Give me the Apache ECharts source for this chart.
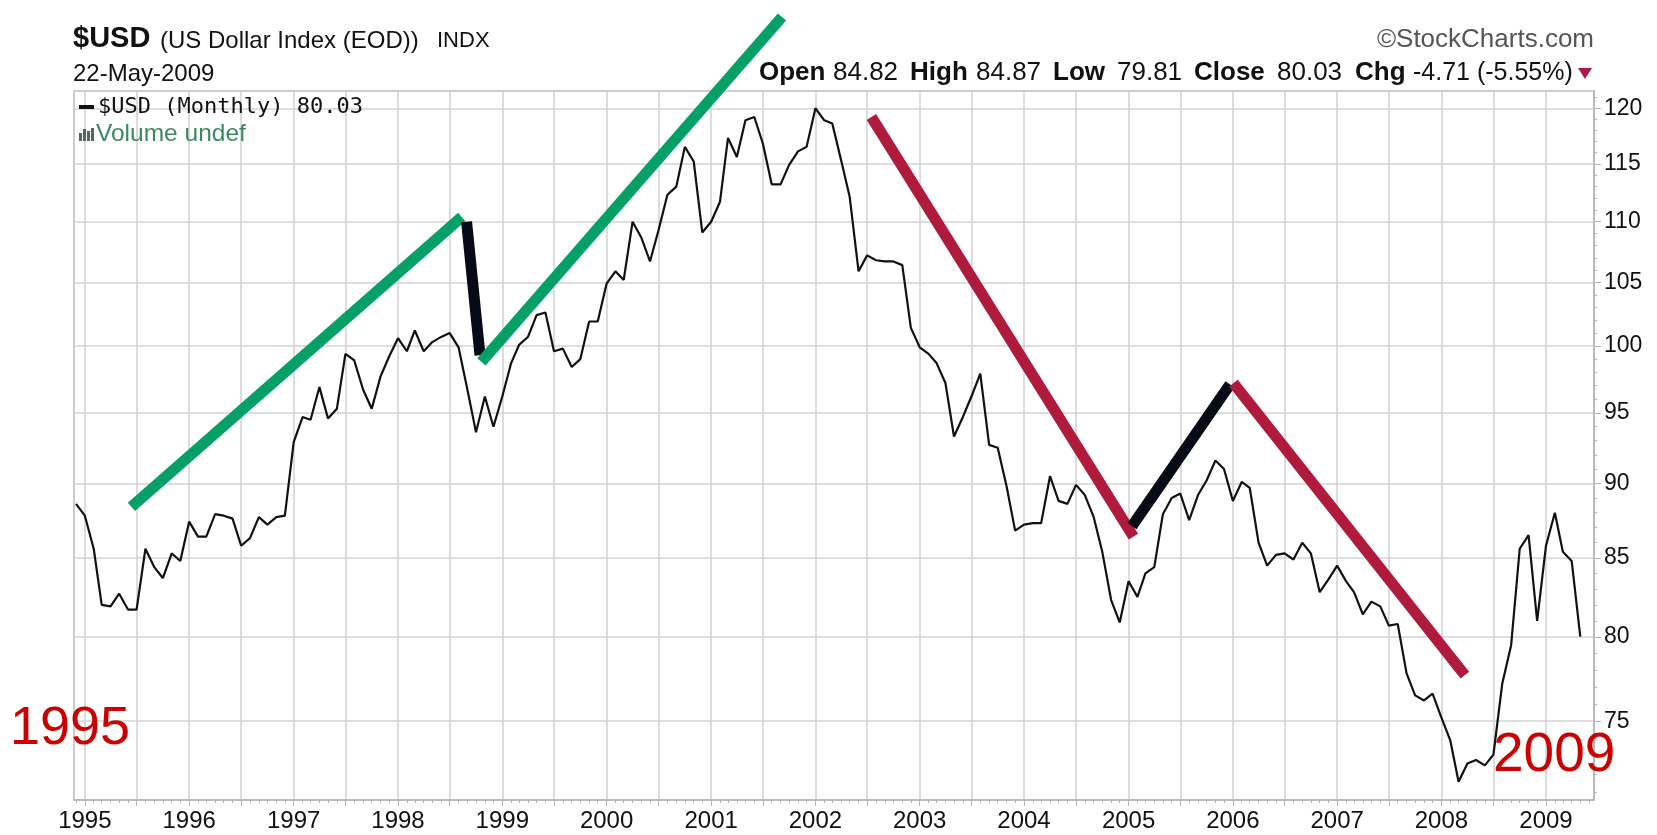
<!DOCTYPE html>
<html>
<head>
<meta charset="utf-8">
<title>$USD Monthly</title>
<script src="https://cdn.jsdelivr.net/npm/echarts@6/dist/echarts.min.js"></script>
<style>
html,body{margin:0;padding:0;background:#fff;}
#chart{width:1657px;height:835px;}
</style>
</head>
<body>
<div id="chart"></div>
<script>
// monthly closes, first point is Dec 1994, each point sits on the 1st of its month
const usd1994 = [88.6];
const usd1995 = [87.8, 85.6, 82.0, 81.9, 82.7, 81.7, 81.7, 85.6, 84.4, 83.7, 85.3, 84.8];
const usd1996 = [87.4, 86.4, 86.4, 87.9, 87.8, 87.6, 85.8, 86.3, 87.7, 87.2, 87.7, 87.8];
const usd1997 = [92.9, 94.7, 94.5, 96.9, 94.6, 95.3, 99.4, 98.9, 96.7, 95.3, 97.7, 99.2];
const usd1998 = [100.6, 99.6, 101.2, 99.6, 100.3, 100.7, 101.0, 99.9, 96.7, 93.6, 96.2, 94.0];
const usd1999 = [96.2, 98.7, 100.1, 100.7, 102.4, 102.6, 99.6, 99.8, 98.4, 99.0, 101.9, 101.9];
const usd2000 = [104.9, 105.9, 105.2, 110.0, 108.7, 106.7, 109.3, 112.3, 113.0, 116.5, 115.2, 109.1];
const usd2001 = [110.0, 111.7, 117.3, 115.6, 118.9, 119.2, 116.8, 113.2, 113.2, 114.9, 116.1, 116.5];
const usd2002 = [120.0, 118.9, 118.6, 115.3, 112.1, 105.9, 107.2, 106.8, 106.7, 106.7, 106.4, 101.4];
const usd2003 = [99.9, 99.4, 98.7, 97.2, 93.3, 94.7, 96.2, 97.9, 92.7, 92.5, 89.8, 86.8];
const usd2004 = [87.2, 87.3, 87.3, 90.5, 88.8, 88.6, 89.9, 89.2, 87.7, 85.4, 82.3, 80.9];
const usd2005 = [83.5, 82.5, 84.0, 84.4, 87.9, 89.0, 89.3, 87.5, 89.2, 90.2, 91.6, 91.0];
const usd2006 = [88.8, 90.1, 89.7, 86.0, 84.5, 85.2, 85.3, 84.9, 86.0, 85.3, 82.8, 83.6];
const usd2007 = [84.5, 83.5, 82.8, 81.4, 82.2, 81.9, 80.7, 80.8, 77.8, 76.5, 76.2, 76.6];
const usd2008 = [75.2, 73.9, 71.6, 72.6, 72.8, 72.5, 73.1, 77.2, 79.5, 85.6, 86.5, 81.0];
const usd2009 = [85.8, 88.0, 85.4, 84.8, 80.03];

// hand drawn trend lines [date, value]
const greenUp1 = [['1995-06-13', 88.4], ['1998-08-12', 110.4]];
const blackDown1 = [['1998-08-29', 110.0], ['1998-10-15', 99.3]];
const greenUp2 = [['1998-10-20', 98.8], ['2001-09-06', 128.7]];
const redDown1 = [['2002-07-16', 119.2], ['2005-01-18', 86.4]];
const blackUp2 = [['2005-01-13', 87.1], ['2005-12-22', 97.1]];
const redDown2 = [['2006-01-03', 97.2], ['2008-03-23', 77.7]];

// axis ticks
const yTicks = [75, 80, 85, 90, 95, 100, 105, 110, 115, 120];
const xYears = [1995, 1996, 1997, 1998, 1999, 2000, 2001, 2002, 2003, 2004, 2005, 2006, 2007, 2008, 2009];

const FONT = 'Liberation Sans, Arial, sans-serif';

function t(s) {
  const p = s.split('-').map(Number);
  return Date.UTC(p[0], p[1] - 1, p[2]);
}
function pairs(line) {
  return line.map(d => [t(d[0]), d[1]]);
}

const closes = [].concat(usd1994, usd1995, usd1996, usd1997, usd1998, usd1999, usd2000,
  usd2001, usd2002, usd2003, usd2004, usd2005, usd2006, usd2007, usd2008, usd2009);
const usdData = closes.map((v, i) => [Date.UTC(1994, 11 + i, 1), v]);

// x axis is a value axis holding UTC timestamps
const yearTicks = xYears.map(y => Date.UTC(y, 0, 1));
const halfYearTicks = [];
xYears.forEach(y => { halfYearTicks.push(Date.UTC(y, 0, 1)); halfYearTicks.push(Date.UTC(y, 6, 1)); });
const monthTicks = [];
for (let i = 0; i < 176; i++) monthTicks.push(Date.UTC(1994, 11 + i, 1));
const yMinor = [];
for (let v = 71; v <= 121; v++) yMinor.push(v);

const xMin = Date.UTC(1994, 10, 24);
const xMax = Date.UTC(2009, 5, 18);
const yMin = 70.6;
const yMax = 121.6;

function trend(data, color) {
  return {
    type: 'line',
    data: pairs(data),
    symbol: 'none',
    clip: false,
    z: 5,
    lineStyle: { color: color, width: 11, cap: 'butt' }
  };
}

function txt(x, y, text, size, opts) {
  opts = opts || {};
  return {
    type: 'text',
    x: x,
    y: y,
    z: 100,
    style: {
      text: text,
      fontFamily: opts.family || FONT,
      fontSize: size,
      fontWeight: opts.bold ? 'bold' : 'normal',
      fill: opts.color || '#111',
      align: opts.align || 'left',
      verticalAlign: 'middle'
    }
  };
}

const option = {
  animation: false,
  backgroundColor: '#fff',
  grid: {
    left: 74, right: 63, top: 91, bottom: 35,
    show: true,
    borderColor: '#bcbcbc',
    borderWidth: 1.5,
    containLabel: false
  },
  xAxis: [
    {
      type: 'value',
      min: xMin,
      max: xMax,
      axisLine: { show: true, onZero: false, lineStyle: { color: '#b5b5b5', width: 1.5 } },
      axisTick: { show: true, customValues: halfYearTicks, length: 6, lineStyle: { color: '#b5b5b5' } },
      axisLabel: {
        customValues: yearTicks,
        formatter: v => String(new Date(v).getUTCFullYear()),
        color: '#111',
        fontFamily: FONT,
        fontSize: 24,
        margin: 9
      },
      splitLine: { show: true, lineStyle: { color: '#d0d0d0', width: 1.5 } }
    },
    {
      type: 'value',
      min: xMin,
      max: xMax,
      position: 'bottom',
      offset: 0,
      axisLine: { show: false, onZero: false },
      axisTick: { show: true, customValues: monthTicks, length: 3, lineStyle: { color: '#b5b5b5' } },
      axisLabel: { show: false },
      splitLine: { show: false }
    }
  ],
  yAxis: [
    {
      type: 'log',
      logBase: 10,
      position: 'right',
      min: yMin,
      max: yMax,
      axisLine: { show: true, lineStyle: { color: '#b5b5b5', width: 1.5 } },
      axisTick: { show: true, customValues: yTicks, length: 7, lineStyle: { color: '#b5b5b5' } },
      axisLabel: {
        customValues: yTicks,
        formatter: v => String(Math.round(v)),
        color: '#111',
        fontFamily: FONT,
        fontSize: 23,
        margin: 10
      },
      splitLine: { show: true, lineStyle: { color: '#d3d3d3', width: 1.5 } }
    },
    {
      type: 'log',
      logBase: 10,
      position: 'right',
      offset: 0,
      min: yMin,
      max: yMax,
      axisLine: { show: false },
      axisTick: { show: true, customValues: yMinor, length: 3, lineStyle: { color: '#b5b5b5' } },
      axisLabel: { show: false },
      splitLine: { show: false }
    }
  ],
  series: [
    {
      type: 'line',
      name: '$USD',
      data: usdData,
      symbol: 'none',
      z: 3,
      lineStyle: { color: '#111', width: 2.2 }
    },
    trend(greenUp1, '#04a066'),
    trend(blackDown1, '#070b16'),
    trend(greenUp2, '#04a066'),
    trend(redDown1, '#b01a3d'),
    trend(blackUp2, '#070b16'),
    trend(redDown2, '#b01a3d')
  ],
  graphic: [
    txt(73, 39, '$USD', 29, { bold: true }),
    txt(160, 41, '(US Dollar Index (EOD))', 24),
    txt(437, 41, 'INDX', 22),
    txt(73, 74, '22-May-2009', 24),
    txt(1594, 40, '\u00a9StockCharts.com', 26, { align: 'right', color: '#555' }),
    txt(759, 73, 'Open', 26, { bold: true }),
    txt(833, 73, '84.82', 26),
    txt(910, 73, 'High', 26, { bold: true }),
    txt(976, 73, '84.87', 26),
    txt(1053, 73, 'Low', 26, { bold: true }),
    txt(1117, 73, '79.81', 26),
    txt(1194, 73, 'Close', 26, { bold: true }),
    txt(1277, 73, '80.03', 26),
    txt(1355, 73, 'Chg', 26, { bold: true }),
    txt(1413, 73, '-4.71 (-5.55%)', 25),
    {
      type: 'polygon', z: 100,
      shape: { points: [[1578, 68], [1592, 68], [1585, 79]] },
      style: { fill: '#b0184a' }
    },
    {
      type: 'line', z: 100,
      shape: { x1: 79, y1: 107, x2: 94, y2: 107 },
      style: { stroke: '#111', lineWidth: 4 }
    },
    txt(98, 107, '$USD (Monthly) 80.03', 22, { family: 'DejaVu Sans Mono, monospace' }),
    { type: 'rect', z: 100, shape: { x: 79, y: 133, width: 3, height: 8 }, style: { fill: '#4d6b5c' } },
    { type: 'rect', z: 100, shape: { x: 83, y: 129, width: 3, height: 12 }, style: { fill: '#4d6b5c' } },
    { type: 'rect', z: 100, shape: { x: 87, y: 131, width: 3, height: 10 }, style: { fill: '#4d6b5c' } },
    { type: 'rect', z: 100, shape: { x: 91, y: 128, width: 3, height: 13 }, style: { fill: '#4d6b5c' } },
    txt(96, 134, 'Volume undef', 24.5, { color: '#3b8a5d' }),
    txt(10, 729, '1995', 54, { color: '#cc0000' }),
    txt(1493, 756, '2009', 55, { color: '#cc0000' })
  ]
};

const chart = echarts.init(document.getElementById('chart'));
chart.setOption(option);
</script>
</body>
</html>
